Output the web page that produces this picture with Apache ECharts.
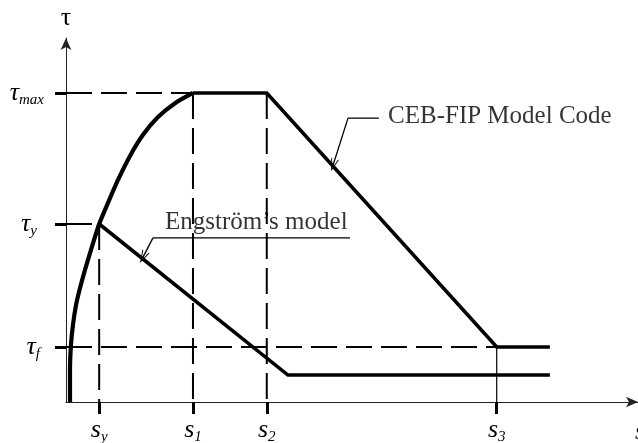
<!DOCTYPE html>
<html>
<head>
<meta charset="utf-8">
<script src="https://cdn.jsdelivr.net/npm/echarts@6/dist/echarts.min.js"></script>
<style>
  html, body { margin: 0; padding: 0; background: #fff; }
  #chart { width: 638px; height: 443px; }
</style>
</head>
<body>
<div id="chart"></div>
<script>
// Bond stress–slip relations: CEB-FIP Model Code vs. Engström's model.
// Units are normalised (slip 0..100, bond stress 0..100).

// characteristic slips: s_y, s_1, s_2, s_3
const slipMarks = [5.8, 22.2, 35.1, 75.3];
const slipNames = ['y', '1', '2', '3'];
// characteristic stresses: tau_f, tau_y, tau_max
const stressMarks = [15.1, 48.9, 84.9];
const stressNames = ['f', 'y', 'max'];

// ascending branch shared by both models
const ascendingSlip   = [0.7, 0.7, 0.87, 1.22, 1.75, 2.45, 3.32, 4.37, 5.8, 7.34, 9.09, 11.19, 13.46, 16.08, 19.06, 22.2];
const ascendingStress = [0, 8.8, 15.7, 21.2, 26.6, 31.3, 36.3, 41.8, 48.9, 54.7, 61.0, 67.6, 73.4, 78.3, 82.1, 84.9];

// CEB-FIP: plateau, linear softening, residual friction
const cebSlip   = [22.2, 35.1, 75.3, 84.6];
const cebStress = [84.9, 84.9, 15.1, 15.1];

// Engström: linear softening from the yield point, then residual level
const engSlip   = [5.8, 38.8, 84.6];
const engStress = [48.9, 7.4, 7.4];

// callout texts and their leader lines (slip, stress)
const cebText = 'CEB-FIP Model Code';
const cebLeader = [[54.7, 78.0], [49.3, 78.0], [46.7, 65.1]];
const engText = 'Engström\u2019s model';
const engLeader = [[49.65, 45.1], [15.2, 45.1], [13.46, 39.8]];

const SERIF = '"Liberation Serif", "DejaVu Serif", serif';
const zip = (xs, ys) => xs.map((x, i) => [x, ys[i]]);

const [sY, s1, s2, s3] = slipMarks;
const [tauF, tauY, tauMax] = stressMarks;

const dash = { color: '#000', width: 2, type: [26, 9] };
function guide(points, style) {
  return {
    type: 'line', data: points, symbol: 'none', silent: true, z: 1,
    lineStyle: style, animation: false
  };
}

const openArrow = 'path://M5,0 L10,13 L8.8,13 L5,3.2 L1.2,13 L0,13 Z';
function leader(points) {
  const n = points.length;
  return {
    type: 'line', data: points.slice(0, n - 1), symbol: 'none', silent: true, z: 3,
    lineStyle: { color: '#000', width: 1.3 }, animation: false,
    markLine: {
      silent: true, animation: false,
      symbol: ['none', openArrow], symbolSize: [8, 13],
      lineStyle: { color: '#000', width: 1.3, type: 'solid' },
      label: { show: false },
      data: [[{ coord: points[n - 2] }, { coord: points[n - 1] }]]
    }
  };
}

function textAt(point, text) {
  return {
    type: 'scatter', data: [point], symbolSize: 0, silent: true, z: 4, animation: false,
    label: {
      show: true, position: 'right', distance: 0, formatter: text,
      fontFamily: SERIF, fontSize: 25, color: '#000'
    }
  };
}

const subBase = { fontFamily: SERIF, fontSize: 15, fontStyle: 'italic', color: '#000', verticalAlign: 'bottom' };
const richLabels = {
  m: { fontFamily: SERIF, fontSize: 26, fontStyle: 'italic', color: '#000' },
  sub: Object.assign({}, subBase, { padding: [0, 0, -2, 0] }),
  subY: Object.assign({}, subBase, { padding: [0, 7, -2, 0] }),
  subF: Object.assign({}, subBase, { padding: [0, 4, -2, 0] })
};

function nearestIndex(arr, v) {
  let best = 0;
  arr.forEach((a, i) => { if (Math.abs(a - v) < Math.abs(arr[best] - v)) best = i; });
  return best;
}

function stressLabel(v) {
  const name = stressNames[nearestIndex(stressMarks, v)];
  const style = name === 'y' ? 'subY' : name === 'f' ? 'subF' : 'sub';
  return '{m|τ}{' + style + '|' + name + '}';
}

const option = {
  backgroundColor: '#fff',
  animation: false,
  grid: { left: 66, right: 0, top: 38, bottom: 41, containLabel: false, outerBoundsMode: 'none' },
  xAxis: {
    type: 'value', min: 0, max: 100,
    name: 's', nameLocation: 'end', nameGap: -3,
    nameTextStyle: { fontFamily: SERIF, fontSize: 26, fontStyle: 'italic', color: '#000',
                     align: 'left', verticalAlign: 'top', padding: [17, 0, 0, 0] },
    axisLine: { onZero: false, lineStyle: { color: '#222', width: 1 },
                symbol: ['none', 'arrow'], symbolSize: [8, 12] },
    axisTick: { show: true, customValues: slipMarks, length: 12,
                lineStyle: { color: '#000', width: 3 } },
    axisLabel: {
      show: true, customValues: slipMarks, margin: 15,
      formatter: v => '{m|s}{sub|' + slipNames[nearestIndex(slipMarks, v)] + '}',
      rich: richLabels
    },
    splitLine: { show: false }
  },
  yAxis: {
    type: 'value', min: 0, max: 100,
    name: 'τ', nameLocation: 'end', nameGap: 7,
    nameTextStyle: { fontFamily: SERIF, fontSize: 26, color: '#000', align: 'center' },
    axisLine: { onZero: false, lineStyle: { color: '#222', width: 1 },
                symbol: ['none', 'arrow'], symbolSize: [8, 12] },
    axisTick: { show: true, customValues: stressMarks, length: 11,
                lineStyle: { color: '#000', width: 3 } },
    axisLabel: {
      show: true, customValues: stressMarks, margin: 22,
      formatter: stressLabel,
      rich: richLabels
    },
    splitLine: { show: false }
  },
  series: [
    // dashed reference lines
    guide([[0, tauMax], [s1, tauMax]], dash),
    guide([[0, tauY], [sY, tauY]], dash),
    guide([[0, tauF], [s3, tauF]], dash),
    guide([[sY, tauY], [sY, 0]], dash),
    guide([[s1, tauMax], [s1, 0]], dash),
    guide([[s2, tauMax], [s2, 0]], dash),
    guide([[s3, tauF], [s3, 0]], { color: '#000', width: 1.2 }),
    // bond-slip curves
    {
      type: 'line', data: zip(ascendingSlip, ascendingStress), smooth: 0.2,
      symbol: 'none', z: 5, lineStyle: { color: '#000', width: 4.2 }
    },
    {
      type: 'line', data: zip(cebSlip, cebStress), symbol: 'none', z: 5,
      lineStyle: { color: '#000', width: 3.6, join: 'miter' }
    },
    {
      type: 'line', data: zip(engSlip, engStress), symbol: 'none', z: 5,
      lineStyle: { color: '#000', width: 3.6, join: 'miter' }
    },
    // callouts
    leader(cebLeader),
    leader(engLeader),
    textAt([56.3, 78.4], cebText),
    textAt([17.3, 49.3], engText)
  ]
};

const chart = echarts.init(document.getElementById('chart'), null, { renderer: 'canvas' });
chart.setOption(option);
</script>
</body>
</html>
